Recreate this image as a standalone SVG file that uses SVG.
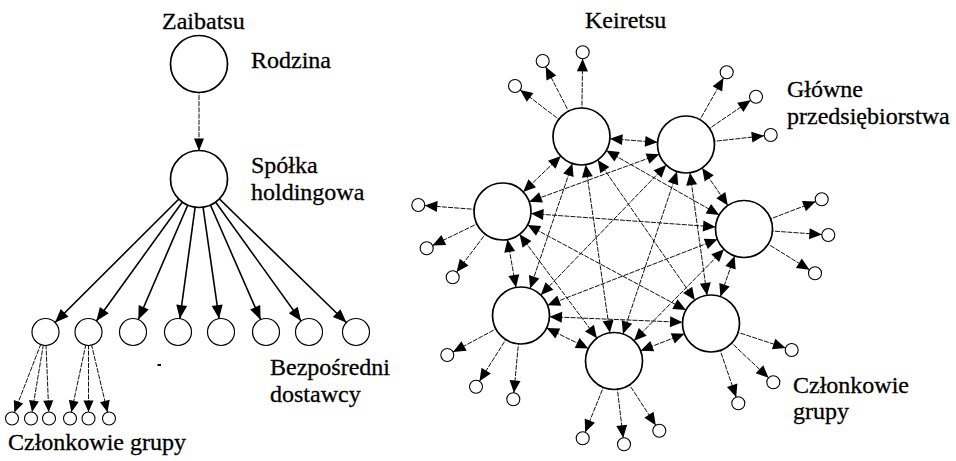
<svg xmlns="http://www.w3.org/2000/svg" width="956" height="461" viewBox="0 0 956 461">
<style>
  text { font-family: "Liberation Serif", "DejaVu Serif", serif; font-size: 24px; fill: #000; stroke: #000; stroke-width: 0.3; }
  .big { fill: #fff; stroke: #000; stroke-width: 1.7; }
  .mid { fill: #fff; stroke: #000; stroke-width: 1.2; }
  .small { fill: #fff; stroke: #000; stroke-width: 1.1; }
  .net { stroke: #111; stroke-width: 1; stroke-dasharray: 5 1.2; marker-start: url(#mNet); marker-end: url(#mNet); }
  .sat { stroke: #111; stroke-width: 1; stroke-dasharray: 5 1.2; marker-end: url(#mSat); }
  .main { stroke: #000; stroke-width: 1.6; marker-end: url(#mChild); }
  .thin { stroke: #111; stroke-width: 1; stroke-dasharray: 5 1.2; }
</style>
<defs>
  <marker id="mNet" markerUnits="userSpaceOnUse" markerWidth="60" markerHeight="60" overflow="visible" orient="auto-start-reverse" refX="41" refY="0"><path d="M0,-5.5 L12.5,0 L0,5.5 z" fill="#000"/></marker>
  <marker id="mSat" markerUnits="userSpaceOnUse" markerWidth="60" markerHeight="60" overflow="visible" orient="auto" refX="19" refY="0"><path d="M0,-5.5 L12.5,0 L0,5.5 z" fill="#000"/></marker>
  <marker id="mRod" markerUnits="userSpaceOnUse" markerWidth="60" markerHeight="60" overflow="visible" orient="auto" refX="40.5" refY="0"><path d="M0,-5 L12.5,0 L0,5 z" fill="#000"/></marker>
  <marker id="mChild" markerUnits="userSpaceOnUse" markerWidth="60" markerHeight="60" overflow="visible" orient="auto" refX="27" refY="0"><path d="M0,-5.5 L13.5,0 L0,5.5 z" fill="#000"/></marker>
  <marker id="mSub" markerUnits="userSpaceOnUse" markerWidth="60" markerHeight="60" overflow="visible" orient="auto" refX="18" refY="0"><path d="M0,-5 L11.5,0 L0,5 z" fill="#000"/></marker>
</defs>

<g id="connectors">
  <line class="thin" x1="199" y1="64" x2="199" y2="179" marker-end="url(#mRod)"/>
  <line class="main" x1="199" y1="179" x2="45.5" y2="332"/>
  <line class="main" x1="199" y1="179" x2="88.5" y2="332"/>
  <line class="main" x1="199" y1="179" x2="133" y2="332"/>
  <line class="main" x1="199" y1="179" x2="178" y2="332"/>
  <line class="main" x1="199" y1="179" x2="221" y2="332"/>
  <line class="main" x1="199" y1="179" x2="266" y2="332"/>
  <line class="main" x1="199" y1="179" x2="309" y2="332"/>
  <line class="main" x1="199" y1="179" x2="356" y2="332"/>
  <line class="thin" x1="45.5" y1="332" x2="12" y2="418.5" marker-end="url(#mSub)"/>
  <line class="thin" x1="45.5" y1="332" x2="31" y2="418.5" marker-end="url(#mSub)"/>
  <line class="thin" x1="45.5" y1="332" x2="49" y2="418.5" marker-end="url(#mSub)"/>
  <line class="thin" x1="88.5" y1="332" x2="70" y2="418.5" marker-end="url(#mSub)"/>
  <line class="thin" x1="88.5" y1="332" x2="88.5" y2="418.5" marker-end="url(#mSub)"/>
  <line class="thin" x1="88.5" y1="332" x2="109" y2="418.5" marker-end="url(#mSub)"/>

  <line class="net" x1="581.5" y1="136.5" x2="686" y2="144.5"/>
  <line class="net" x1="581.5" y1="136.5" x2="502.5" y2="211.5"/>
  <line class="net" x1="581.5" y1="136.5" x2="744" y2="229"/>
  <line class="net" x1="581.5" y1="136.5" x2="521" y2="315.5"/>
  <line class="net" x1="581.5" y1="136.5" x2="711" y2="323.5"/>
  <line class="net" x1="581.5" y1="136.5" x2="614" y2="361"/>
  <line class="net" x1="686" y1="144.5" x2="502.5" y2="211.5"/>
  <line class="net" x1="686" y1="144.5" x2="744" y2="229"/>
  <line class="net" x1="686" y1="144.5" x2="521" y2="315.5"/>
  <line class="net" x1="686" y1="144.5" x2="711" y2="323.5"/>
  <line class="net" x1="686" y1="144.5" x2="614" y2="361"/>
  <line class="net" x1="502.5" y1="211.5" x2="744" y2="229"/>
  <line class="net" x1="502.5" y1="211.5" x2="521" y2="315.5"/>
  <line class="net" x1="502.5" y1="211.5" x2="711" y2="323.5"/>
  <line class="net" x1="502.5" y1="211.5" x2="614" y2="361"/>
  <line class="net" x1="744" y1="229" x2="521" y2="315.5"/>
  <line class="net" x1="744" y1="229" x2="711" y2="323.5"/>
  <line class="net" x1="744" y1="229" x2="614" y2="361"/>
  <line class="net" x1="521" y1="315.5" x2="711" y2="323.5"/>
  <line class="net" x1="521" y1="315.5" x2="614" y2="361"/>
  <line class="net" x1="711" y1="323.5" x2="614" y2="361"/>

  <line class="sat" x1="581.5" y1="136.5" x2="515" y2="86"/>
  <line class="sat" x1="581.5" y1="136.5" x2="542.7" y2="61"/>
  <line class="sat" x1="581.5" y1="136.5" x2="582.7" y2="52.3"/>
  <line class="sat" x1="686" y1="144.5" x2="726.7" y2="72.3"/>
  <line class="sat" x1="686" y1="144.5" x2="756" y2="96.7"/>
  <line class="sat" x1="686" y1="144.5" x2="770.7" y2="135"/>
  <line class="sat" x1="502.5" y1="211.5" x2="418.3" y2="205"/>
  <line class="sat" x1="502.5" y1="211.5" x2="426.7" y2="248.3"/>
  <line class="sat" x1="502.5" y1="211.5" x2="452.7" y2="277.3"/>
  <line class="sat" x1="744" y1="229" x2="821.7" y2="199.3"/>
  <line class="sat" x1="744" y1="229" x2="828.3" y2="235"/>
  <line class="sat" x1="744" y1="229" x2="815" y2="273.3"/>
  <line class="sat" x1="521" y1="315.5" x2="447.3" y2="355"/>
  <line class="sat" x1="521" y1="315.5" x2="476" y2="386.7"/>
  <line class="sat" x1="521" y1="315.5" x2="513.3" y2="399.3"/>
  <line class="sat" x1="711" y1="323.5" x2="791.7" y2="350"/>
  <line class="sat" x1="711" y1="323.5" x2="773.3" y2="382.3"/>
  <line class="sat" x1="711" y1="323.5" x2="738.3" y2="403.3"/>
  <line class="sat" x1="614" y1="361" x2="582.7" y2="438.3"/>
  <line class="sat" x1="614" y1="361" x2="624" y2="444.3"/>
  <line class="sat" x1="614" y1="361" x2="659.3" y2="430.7"/>
</g>

<g font-family="'Liberation Serif', 'DejaVu Serif', serif" font-size="24">
<text x="162" y="29">Zaibatsu</text>
<text x="585" y="28">Keiretsu</text>
<rect x="157.5" y="364" width="3.5" height="2" fill="#000"/>

<g id="rodzina"><circle class="big" cx="199" cy="64" r="28.5"/><text x="251" y="68">Rodzina</text></g>
<g id="holding"><circle class="big" cx="199" cy="179" r="28.5"/><text x="251" y="173">Spółka</text><text x="251" y="200">holdingowa</text></g>
<g id="supplier1"><circle class="mid" cx="45.5" cy="332" r="13.5"/></g>
<g id="supplier2"><circle class="mid" cx="88.5" cy="332" r="13.5"/></g>
<g id="supplier3"><circle class="mid" cx="133" cy="332" r="13.5"/></g>
<g id="supplier4"><circle class="mid" cx="178" cy="332" r="13.5"/></g>
<g id="supplier5"><circle class="mid" cx="221" cy="332" r="13.5"/></g>
<g id="supplier6"><circle class="mid" cx="266" cy="332" r="13.5"/></g>
<g id="supplier7"><circle class="mid" cx="309" cy="332" r="13.5"/></g>
<g id="supplier8"><circle class="mid" cx="356" cy="332" r="13.5"/></g>
<g id="suppliers-label"><text x="270" y="375">Bezpośredni</text><text x="270" y="402">dostawcy</text></g>
<g id="member1"><circle class="small" cx="12" cy="418.5" r="6.5"/></g>
<g id="member2"><circle class="small" cx="31" cy="418.5" r="6.5"/></g>
<g id="member3"><circle class="small" cx="49" cy="418.5" r="6.5"/></g>
<g id="member4"><circle class="small" cx="70" cy="418.5" r="6.5"/></g>
<g id="member5"><circle class="small" cx="88.5" cy="418.5" r="6.5"/></g>
<g id="member6"><circle class="small" cx="109" cy="418.5" r="6.5"/></g>
<g id="members-label"><text x="8" y="450">Członkowie grupy</text></g>

<g id="kA"><circle class="big" cx="581.5" cy="136.5" r="28.5"/></g>
<g id="kB"><circle class="big" cx="686" cy="144.5" r="28.5"/></g>
<g id="kC"><circle class="big" cx="502.5" cy="211.5" r="28.5"/></g>
<g id="kD"><circle class="big" cx="744" cy="229" r="28.5"/></g>
<g id="kE"><circle class="big" cx="521" cy="315.5" r="28.5"/></g>
<g id="kF"><circle class="big" cx="711" cy="323.5" r="28.5"/></g>
<g id="kG"><circle class="big" cx="614" cy="361" r="28.5"/></g>
<g id="main-label"><text x="787" y="97">Główne</text><text x="787" y="124">przedsiębiorstwa</text></g>

<g id="sA1"><circle class="small" cx="515" cy="86" r="6.5"/></g>
<g id="sA2"><circle class="small" cx="542.7" cy="61" r="6.5"/></g>
<g id="sA3"><circle class="small" cx="582.7" cy="52.3" r="6.5"/></g>
<g id="sB1"><circle class="small" cx="726.7" cy="72.3" r="6.5"/></g>
<g id="sB2"><circle class="small" cx="756" cy="96.7" r="6.5"/></g>
<g id="sB3"><circle class="small" cx="770.7" cy="135" r="6.5"/></g>
<g id="sC1"><circle class="small" cx="418.3" cy="205" r="6.5"/></g>
<g id="sC2"><circle class="small" cx="426.7" cy="248.3" r="6.5"/></g>
<g id="sC3"><circle class="small" cx="452.7" cy="277.3" r="6.5"/></g>
<g id="sD1"><circle class="small" cx="821.7" cy="199.3" r="6.5"/></g>
<g id="sD2"><circle class="small" cx="828.3" cy="235" r="6.5"/></g>
<g id="sD3"><circle class="small" cx="815" cy="273.3" r="6.5"/></g>
<g id="sE1"><circle class="small" cx="447.3" cy="355" r="6.5"/></g>
<g id="sE2"><circle class="small" cx="476" cy="386.7" r="6.5"/></g>
<g id="sE3"><circle class="small" cx="513.3" cy="399.3" r="6.5"/></g>
<g id="sF1"><circle class="small" cx="791.7" cy="350" r="6.5"/></g>
<g id="sF2"><circle class="small" cx="773.3" cy="382.3" r="6.5"/></g>
<g id="sF3"><circle class="small" cx="738.3" cy="403.3" r="6.5"/></g>
<g id="sG1"><circle class="small" cx="582.7" cy="438.3" r="6.5"/></g>
<g id="sG2"><circle class="small" cx="624" cy="444.3" r="6.5"/></g>
<g id="sG3"><circle class="small" cx="659.3" cy="430.7" r="6.5"/></g>
<g id="kmembers-label"><text x="793" y="393">Członkowie</text><text x="793" y="419">grupy</text></g>
</g>
</svg>
